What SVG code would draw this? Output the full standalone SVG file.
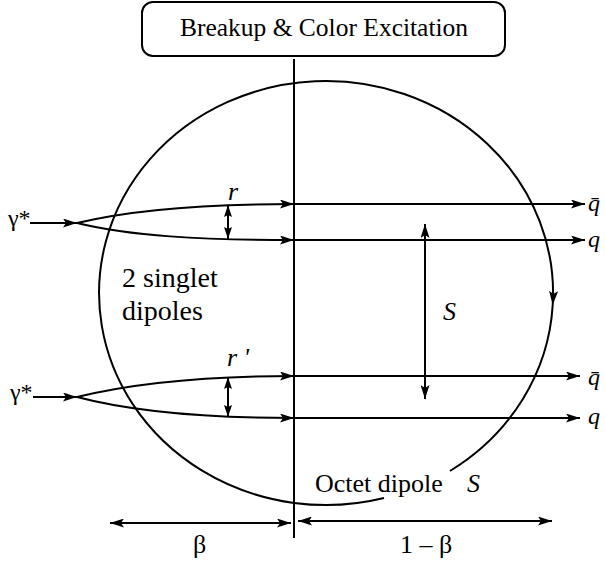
<svg xmlns="http://www.w3.org/2000/svg" width="605" height="565" viewBox="0 0 605 565">
<style>
.ln{fill:none;stroke:#000;stroke-width:2}
text{font-family:'Liberation Serif','DejaVu Serif','Noto Serif','Times New Roman',serif;fill:#000}
.i{font-style:italic}
</style>
<defs>
<marker id="ah" viewBox="0 0 14 9" refX="14" refY="4.5" markerWidth="14" markerHeight="9" orient="auto-start-reverse" markerUnits="userSpaceOnUse">
<path d="M0,0 L14,4.5 L0,9 L3,4.5 Z" fill="#000"/>
</marker>
<marker id="as" viewBox="0 0 12 8" refX="12" refY="4" markerWidth="12" markerHeight="8" orient="auto-start-reverse" markerUnits="userSpaceOnUse">
<path d="M0,0 L12,4 L0,8 L2,4 Z" fill="#000"/>
</marker>
</defs>
<rect width="605" height="565" fill="#fff"/>
<g id="title">
<rect x="142" y="2" width="363" height="54" rx="11" fill="#fff" stroke="#000" stroke-width="2"/>
<text x="324" y="36" font-size="25.5" text-anchor="middle">Breakup &amp; Color Excitation</text>
</g>
<g id="connectors">
<path class="ln" d="M294,59 V538" stroke-width="2.5"/>
<path class="ln" d="M384,498 A227,212 0 1 1 552.7,305" marker-end="url(#ah)"/>
<path class="ln" d="M552.7,305 A227,212 0 0 1 450,471"/>
<path class="ln" d="M30,223 H77" marker-end="url(#ah)"/>
<path class="ln" d="M77,223 C130,210 200,204 294,204" marker-end="url(#ah)"/>
<path class="ln" d="M77,223 C130,236 200,240 294,240" marker-end="url(#ah)"/>
<path class="ln" d="M294,204 H585" marker-end="url(#ah)"/>
<path class="ln" d="M294,240 H585" marker-end="url(#ah)"/>
<path class="ln" d="M33,397 H77" marker-end="url(#ah)"/>
<path class="ln" d="M77,397 C130,384 200,376 294,376" marker-end="url(#ah)"/>
<path class="ln" d="M77,397 C130,411 200,418 294,418" marker-end="url(#ah)"/>
<path class="ln" d="M294,376 H580" marker-end="url(#ah)"/>
<path class="ln" d="M294,418 H580" marker-end="url(#ah)"/>
<path class="ln" d="M228,205 V239" marker-start="url(#as)" marker-end="url(#as)"/>
<path class="ln" d="M228,377 V417" marker-start="url(#as)" marker-end="url(#as)"/>
<path class="ln" d="M425,224 V399" marker-start="url(#ah)" marker-end="url(#ah)"/>
<path class="ln" d="M110,523 H291" marker-start="url(#ah)" marker-end="url(#ah)"/>
<path class="ln" d="M298,521 H552" marker-start="url(#ah)" marker-end="url(#ah)"/>
</g>
<g id="labels">
<text x="8" y="226" font-size="24">γ*</text>
<text x="10" y="400" font-size="24">γ*</text>
<text class="i" x="228" y="200" font-size="26">r</text>
<text class="i" x="227" y="366" font-size="26">r '</text>
<text x="122" y="287" font-size="28">2 singlet</text>
<text x="122" y="320" font-size="28">dipoles</text>
<text class="i" x="443" y="320" font-size="26">S</text>
<text class="i" x="588" y="211" font-size="24">q̄</text>
<text class="i" x="588" y="247" font-size="24">q</text>
<text class="i" x="588" y="385" font-size="24">q̄</text>
<text class="i" x="588" y="424" font-size="24">q</text>
<text x="315" y="492" font-size="26">Octet dipole</text>
<text class="i" x="467" y="492" font-size="26">S</text>
<text x="193" y="553" font-size="26">β</text>
<text x="400" y="553" font-size="26">1 – β</text>
</g>
</svg>
